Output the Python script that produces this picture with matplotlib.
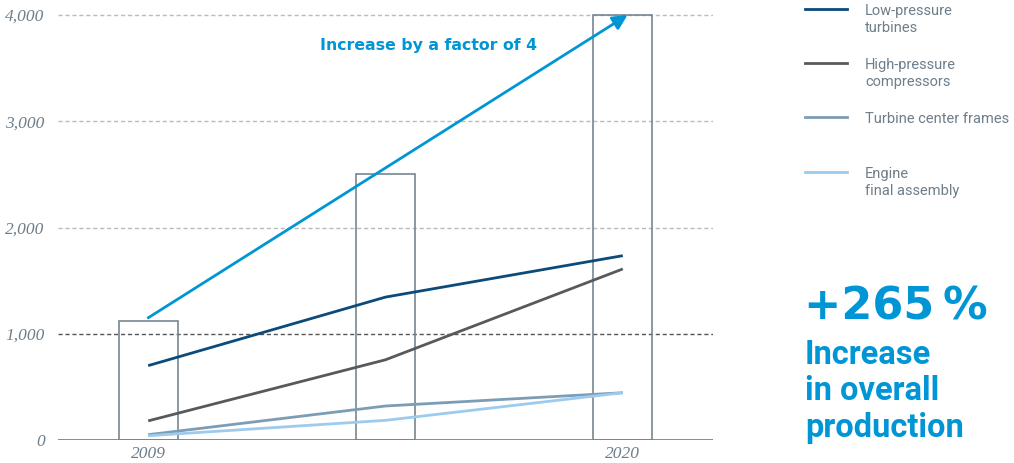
import numpy as np
import matplotlib.pyplot as plt

# data
years = ['2009', '', '2020']
total = [1120, 2500, 4000]
series_names = ['Low-pressure\nturbines', 'High-pressure\ncompressors',
                'Turbine center frames', 'Engine\nfinal assembly']
low_pressure = [700, 1345, 1735]
high_pressure = [180, 755, 1610]
center_frames = [50, 320, 445]
final_assembly = [40, 185, 445]
arrow_from = 1150
arrow_to = 4000
y_ticks = [0, 1000, 2000, 3000, 4000]

colors = ['#0c4a7a', '#58595b', '#7c9db6', '#9dcbee']
blue = '#0096d6'
grey_text = '#6e7e8a'

fig = plt.figure(figsize=(10.14, 4.63), dpi=100)
ax = fig.add_axes([58 / 1014, 23 / 463, (713 - 58) / 1014, (440 - 9.7) / 463])

x = np.arange(len(years))

# gridlines
for t in y_ticks[1:]:
    ax.axhline(t, color='#555555' if t == 1000 else '#bbbbbb', lw=1,
               ls=(0, (3, 2)), zorder=0)
ax.axhline(0, color='#777777', lw=1.2, zorder=1)

# outline bars
ax.bar(x, total, width=0.25, facecolor='none', edgecolor='#76868f', lw=1.2, zorder=2)

# series lines
for vals, c in zip([low_pressure, high_pressure, center_frames, final_assembly], colors):
    ax.plot(x, vals, color=c, lw=2, zorder=3, solid_capstyle='butt')

# growth arrow
ax.annotate('', xy=(x[-1] + 0.02, arrow_to), xytext=(x[0], arrow_from),
            arrowprops=dict(arrowstyle='-|>', color=blue, lw=2,
                            mutation_scale=22, shrinkA=0, shrinkB=0), zorder=4)
ax.text(0.725, 3710, 'Increase by a factor of 4', color=blue, fontsize=11.3,
        fontweight='bold', family='DejaVu Sans', va='center', ha='left')

ax.set_xlim(-0.38, 2.38)
ax.set_ylim(0, 4050)
ax.set_xticks(x)
ax.set_xticklabels(years, family='Liberation Serif', style='italic',
                   fontsize=12.5, color=grey_text)
ax.set_yticks(y_ticks)
ax.set_yticklabels([f'{t:,}' for t in y_ticks], family='Liberation Serif',
                   style='italic', fontsize=12.5, color=grey_text)
ax.tick_params(axis='y', length=0, pad=9.5)
ax.tick_params(axis='x', length=0, pad=4)
for s in ax.spines.values():
    s.set_visible(False)

# legend drawn by hand
leg_y = [9, 63, 117, 172]
for name, c, yy in zip(series_names, colors, leg_y):
    fy = 1 - yy / 463
    fig.add_artist(plt.Line2D([805 / 1014, 847 / 1014], [fy, fy], color=c, lw=2))
    fig.text(865 / 1014, 1 - (yy - 5) / 463, name, color=grey_text, fontsize=10.5,
             family='Roboto', va='top', ha='left', linespacing=1.25)

fig.text(804 / 1014, 1 - 307 / 463, '+265\u2009%', color=blue, fontsize=32,
         fontweight='bold', family='DejaVu Sans', va='center', ha='left')
fig.text(805 / 1014, 1 - 339 / 463, 'Increase\nin overall\nproduction', color=blue,
         fontsize=23.5, fontweight='bold', family='Roboto', va='top', ha='left',
         linespacing=1.17)

fig.savefig('out.png', dpi=100)
